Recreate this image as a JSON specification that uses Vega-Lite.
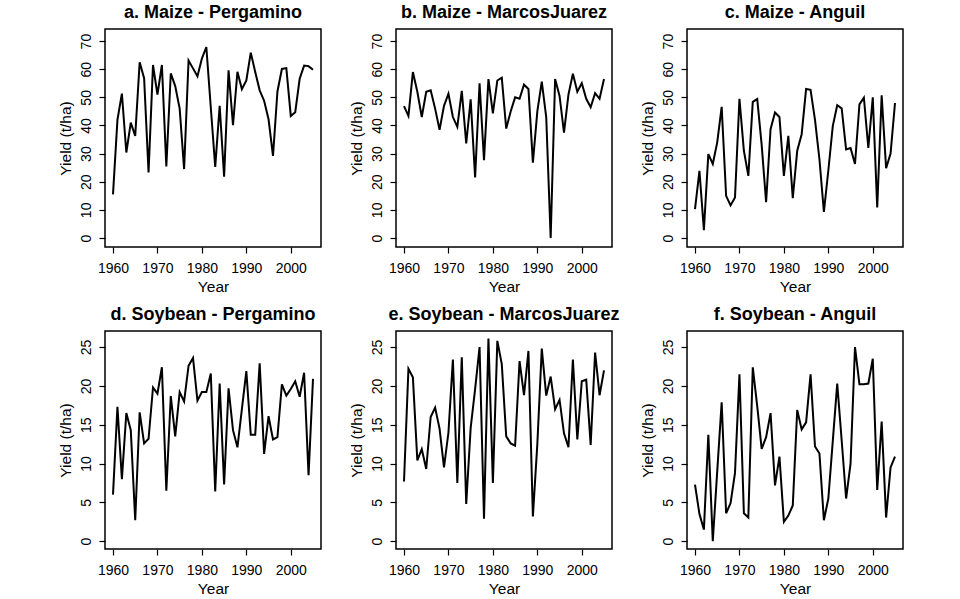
{
  "$schema": "https://vega.github.io/schema/vega-lite/v6.json",
  "background": "white",
  "padding": {"left": 57, "top": 3, "right": 5, "bottom": 5},
  "bounds": "flush",
  "spacing": {"row": 84, "column": 75},
  "columns": 3,
  "datasets": {
    "a": [{"Year":1960,"Yield":15.5},{"Year":1961,"Yield":42},{"Year":1962,"Yield":51.3},{"Year":1963,"Yield":30.4},{"Year":1964,"Yield":41},{"Year":1965,"Yield":36.3},{"Year":1966,"Yield":62.5},{"Year":1967,"Yield":56.8},{"Year":1968,"Yield":23.3},{"Year":1969,"Yield":61.5},{"Year":1970,"Yield":51},{"Year":1971,"Yield":61.5},{"Year":1972,"Yield":25.4},{"Year":1973,"Yield":58.5},{"Year":1974,"Yield":54},{"Year":1975,"Yield":46},{"Year":1976,"Yield":24.5},{"Year":1977,"Yield":63.1},{"Year":1978,"Yield":60.3},{"Year":1979,"Yield":57.5},{"Year":1980,"Yield":63.8},{"Year":1981,"Yield":67.9},{"Year":1982,"Yield":46.5},{"Year":1983,"Yield":25.3},{"Year":1984,"Yield":47},{"Year":1985,"Yield":21.8},{"Year":1986,"Yield":59.6},{"Year":1987,"Yield":40.1},{"Year":1988,"Yield":59.1},{"Year":1989,"Yield":52.9},{"Year":1990,"Yield":56},{"Year":1991,"Yield":65.9},{"Year":1992,"Yield":59},{"Year":1993,"Yield":52.5},{"Year":1994,"Yield":48.8},{"Year":1995,"Yield":42.2},{"Year":1996,"Yield":29.2},{"Year":1997,"Yield":52.1},{"Year":1998,"Yield":60.1},{"Year":1999,"Yield":60.4},{"Year":2000,"Yield":43.4},{"Year":2001,"Yield":44.7},{"Year":2002,"Yield":56.6},{"Year":2003,"Yield":61.3},{"Year":2004,"Yield":61.1},{"Year":2005,"Yield":59.8}],
    "b": [{"Year":1960,"Yield":46.9},{"Year":1961,"Yield":43.4},{"Year":1962,"Yield":59},{"Year":1963,"Yield":52},{"Year":1964,"Yield":43},{"Year":1965,"Yield":52},{"Year":1966,"Yield":52.5},{"Year":1967,"Yield":46},{"Year":1968,"Yield":38.5},{"Year":1969,"Yield":47},{"Year":1970,"Yield":51.3},{"Year":1971,"Yield":43},{"Year":1972,"Yield":39.5},{"Year":1973,"Yield":52.3},{"Year":1974,"Yield":33.6},{"Year":1975,"Yield":49.3},{"Year":1976,"Yield":21.5},{"Year":1977,"Yield":55},{"Year":1978,"Yield":27.7},{"Year":1979,"Yield":56.5},{"Year":1980,"Yield":44.3},{"Year":1981,"Yield":56},{"Year":1982,"Yield":57},{"Year":1983,"Yield":38.9},{"Year":1984,"Yield":45},{"Year":1985,"Yield":50},{"Year":1986,"Yield":49.5},{"Year":1987,"Yield":54.5},{"Year":1988,"Yield":53},{"Year":1989,"Yield":26.8},{"Year":1990,"Yield":45},{"Year":1991,"Yield":55.6},{"Year":1992,"Yield":43},{"Year":1993,"Yield":0},{"Year":1994,"Yield":56.5},{"Year":1995,"Yield":50.5},{"Year":1996,"Yield":37.5},{"Year":1997,"Yield":51},{"Year":1998,"Yield":58.4},{"Year":1999,"Yield":52},{"Year":2000,"Yield":55},{"Year":2001,"Yield":49.5},{"Year":2002,"Yield":46.5},{"Year":2003,"Yield":51.5},{"Year":2004,"Yield":49.5},{"Year":2005,"Yield":56.5}],
    "c": [{"Year":1960,"Yield":10.3},{"Year":1961,"Yield":23.9},{"Year":1962,"Yield":2.8},{"Year":1963,"Yield":29.8},{"Year":1964,"Yield":26.3},{"Year":1965,"Yield":34},{"Year":1966,"Yield":46.6},{"Year":1967,"Yield":15},{"Year":1968,"Yield":11.6},{"Year":1969,"Yield":14.4},{"Year":1970,"Yield":49.5},{"Year":1971,"Yield":31},{"Year":1972,"Yield":22.1},{"Year":1973,"Yield":48.4},{"Year":1974,"Yield":49.4},{"Year":1975,"Yield":33.1},{"Year":1976,"Yield":12.7},{"Year":1977,"Yield":38.7},{"Year":1978,"Yield":44.6},{"Year":1979,"Yield":43},{"Year":1980,"Yield":22.1},{"Year":1981,"Yield":36.3},{"Year":1982,"Yield":14.2},{"Year":1983,"Yield":31},{"Year":1984,"Yield":36.9},{"Year":1985,"Yield":53},{"Year":1986,"Yield":52.7},{"Year":1987,"Yield":42},{"Year":1988,"Yield":28},{"Year":1989,"Yield":9.3},{"Year":1990,"Yield":24},{"Year":1991,"Yield":39.8},{"Year":1992,"Yield":47.2},{"Year":1993,"Yield":46.1},{"Year":1994,"Yield":31.5},{"Year":1995,"Yield":32},{"Year":1996,"Yield":26.3},{"Year":1997,"Yield":47.5},{"Year":1998,"Yield":49.9},{"Year":1999,"Yield":32},{"Year":2000,"Yield":50},{"Year":2001,"Yield":10.9},{"Year":2002,"Yield":50.7},{"Year":2003,"Yield":24.8},{"Year":2004,"Yield":30},{"Year":2005,"Yield":48}],
    "d": [{"Year":1960,"Yield":6},{"Year":1961,"Yield":17.3},{"Year":1962,"Yield":8},{"Year":1963,"Yield":16.5},{"Year":1964,"Yield":14.3},{"Year":1965,"Yield":2.7},{"Year":1966,"Yield":16.6},{"Year":1967,"Yield":12.6},{"Year":1968,"Yield":13.2},{"Year":1969,"Yield":19.8},{"Year":1970,"Yield":19},{"Year":1971,"Yield":22.4},{"Year":1972,"Yield":6.5},{"Year":1973,"Yield":18.7},{"Year":1974,"Yield":13.5},{"Year":1975,"Yield":19.2},{"Year":1976,"Yield":18},{"Year":1977,"Yield":22.6},{"Year":1978,"Yield":23.6},{"Year":1979,"Yield":18.1},{"Year":1980,"Yield":19.2},{"Year":1981,"Yield":19.2},{"Year":1982,"Yield":21.6},{"Year":1983,"Yield":6.4},{"Year":1984,"Yield":20.3},{"Year":1985,"Yield":7.3},{"Year":1986,"Yield":19.7},{"Year":1987,"Yield":14.3},{"Year":1988,"Yield":12.1},{"Year":1989,"Yield":17},{"Year":1990,"Yield":21.9},{"Year":1991,"Yield":13.7},{"Year":1992,"Yield":13.7},{"Year":1993,"Yield":22.9},{"Year":1994,"Yield":11.25},{"Year":1995,"Yield":16.1},{"Year":1996,"Yield":13.1},{"Year":1997,"Yield":13.4},{"Year":1998,"Yield":20.2},{"Year":1999,"Yield":18.75},{"Year":2000,"Yield":19.6},{"Year":2001,"Yield":20.6},{"Year":2002,"Yield":18.6},{"Year":2003,"Yield":21.7},{"Year":2004,"Yield":8.5},{"Year":2005,"Yield":20.9}],
    "e": [{"Year":1960,"Yield":7.7},{"Year":1961,"Yield":22.2},{"Year":1962,"Yield":21.1},{"Year":1963,"Yield":10.4},{"Year":1964,"Yield":11.85},{"Year":1965,"Yield":9.3},{"Year":1966,"Yield":16},{"Year":1967,"Yield":17.2},{"Year":1968,"Yield":14.5},{"Year":1969,"Yield":9.5},{"Year":1970,"Yield":14},{"Year":1971,"Yield":23.4},{"Year":1972,"Yield":7.5},{"Year":1973,"Yield":23.7},{"Year":1974,"Yield":4.8},{"Year":1975,"Yield":14.6},{"Year":1976,"Yield":19.6},{"Year":1977,"Yield":25},{"Year":1978,"Yield":2.9},{"Year":1979,"Yield":26.1},{"Year":1980,"Yield":7.5},{"Year":1981,"Yield":25.8},{"Year":1982,"Yield":22.8},{"Year":1983,"Yield":13.5},{"Year":1984,"Yield":12.6},{"Year":1985,"Yield":12.3},{"Year":1986,"Yield":23.2},{"Year":1987,"Yield":18.8},{"Year":1988,"Yield":24.5},{"Year":1989,"Yield":3.2},{"Year":1990,"Yield":12.5},{"Year":1991,"Yield":24.8},{"Year":1992,"Yield":18.75},{"Year":1993,"Yield":21.2},{"Year":1994,"Yield":17},{"Year":1995,"Yield":18.2},{"Year":1996,"Yield":13.9},{"Year":1997,"Yield":12.1},{"Year":1998,"Yield":23.4},{"Year":1999,"Yield":13.1},{"Year":2000,"Yield":20.6},{"Year":2001,"Yield":20.8},{"Year":2002,"Yield":12.4},{"Year":2003,"Yield":24.3},{"Year":2004,"Yield":18.8},{"Year":2005,"Yield":22}],
    "f": [{"Year":1960,"Yield":7.3},{"Year":1961,"Yield":3.5},{"Year":1962,"Yield":1.5},{"Year":1963,"Yield":13.7},{"Year":1964,"Yield":0},{"Year":1965,"Yield":9},{"Year":1966,"Yield":17.9},{"Year":1967,"Yield":3.6},{"Year":1968,"Yield":4.9},{"Year":1969,"Yield":8.8},{"Year":1970,"Yield":21.5},{"Year":1971,"Yield":3.6},{"Year":1972,"Yield":3.05},{"Year":1973,"Yield":22.4},{"Year":1974,"Yield":17.4},{"Year":1975,"Yield":11.9},{"Year":1976,"Yield":13.4},{"Year":1977,"Yield":16.5},{"Year":1978,"Yield":7.2},{"Year":1979,"Yield":10.9},{"Year":1980,"Yield":2.5},{"Year":1981,"Yield":3.3},{"Year":1982,"Yield":4.6},{"Year":1983,"Yield":16.9},{"Year":1984,"Yield":14.4},{"Year":1985,"Yield":15.3},{"Year":1986,"Yield":21.5},{"Year":1987,"Yield":12.2},{"Year":1988,"Yield":11.3},{"Year":1989,"Yield":2.7},{"Year":1990,"Yield":5.5},{"Year":1991,"Yield":12.9},{"Year":1992,"Yield":20.3},{"Year":1993,"Yield":13},{"Year":1994,"Yield":5.5},{"Year":1995,"Yield":10},{"Year":1996,"Yield":25},{"Year":1997,"Yield":20.2},{"Year":1998,"Yield":20.2},{"Year":1999,"Yield":20.3},{"Year":2000,"Yield":23.5},{"Year":2001,"Yield":6.6},{"Year":2002,"Yield":15.4},{"Year":2003,"Yield":3.05},{"Year":2004,"Yield":9.5},{"Year":2005,"Yield":10.9}]
  },
  "concat": [
    {"title": "a. Maize - Pergamino", "width": 216, "height": 218, "data": {"name": "a"},
     "mark": {"type": "line", "color": "black", "strokeWidth": 2},
     "encoding": {
       "x": {"field": "Year", "type": "quantitative", "scale": {"domain": [1958.2, 2006.8], "nice": false, "zero": false}, "axis": {"values": [1960,1970,1980,1990,2000], "format": "d"}},
       "y": {"field": "Yield", "type": "quantitative", "title": "Yield (t/ha)", "scale": {"domain": [-3.2, 74.3], "nice": false, "zero": false}, "axis": {"values": [0,10,20,30,40,50,60,70]}}
     }},
    {"title": "b. Maize - MarcosJuarez", "width": 216, "height": 218, "data": {"name": "b"},
     "mark": {"type": "line", "color": "black", "strokeWidth": 2},
     "encoding": {
       "x": {"field": "Year", "type": "quantitative", "scale": {"domain": [1958.2, 2006.8], "nice": false, "zero": false}, "axis": {"values": [1960,1970,1980,1990,2000], "format": "d"}},
       "y": {"field": "Yield", "type": "quantitative", "title": "Yield (t/ha)", "scale": {"domain": [-3.2, 74.3], "nice": false, "zero": false}, "axis": {"values": [0,10,20,30,40,50,60,70]}}
     }},
    {"title": "c. Maize - Anguil", "width": 216, "height": 218, "data": {"name": "c"},
     "mark": {"type": "line", "color": "black", "strokeWidth": 2},
     "encoding": {
       "x": {"field": "Year", "type": "quantitative", "scale": {"domain": [1958.2, 2006.8], "nice": false, "zero": false}, "axis": {"values": [1960,1970,1980,1990,2000], "format": "d"}},
       "y": {"field": "Yield", "type": "quantitative", "title": "Yield (t/ha)", "scale": {"domain": [-3.2, 74.3], "nice": false, "zero": false}, "axis": {"values": [0,10,20,30,40,50,60,70]}}
     }},
    {"title": "d. Soybean - Pergamino", "width": 216, "height": 218, "data": {"name": "d"},
     "mark": {"type": "line", "color": "black", "strokeWidth": 2},
     "encoding": {
       "x": {"field": "Year", "type": "quantitative", "scale": {"domain": [1958.2, 2006.8], "nice": false, "zero": false}, "axis": {"values": [1960,1970,1980,1990,2000], "format": "d"}},
       "y": {"field": "Yield", "type": "quantitative", "title": "Yield (t/ha)", "scale": {"domain": [-1.0, 27.07], "nice": false, "zero": false}, "axis": {"values": [0,5,10,15,20,25]}}
     }},
    {"title": "e. Soybean - MarcosJuarez", "width": 216, "height": 218, "data": {"name": "e"},
     "mark": {"type": "line", "color": "black", "strokeWidth": 2},
     "encoding": {
       "x": {"field": "Year", "type": "quantitative", "scale": {"domain": [1958.2, 2006.8], "nice": false, "zero": false}, "axis": {"values": [1960,1970,1980,1990,2000], "format": "d"}},
       "y": {"field": "Yield", "type": "quantitative", "title": "Yield (t/ha)", "scale": {"domain": [-1.0, 27.07], "nice": false, "zero": false}, "axis": {"values": [0,5,10,15,20,25]}}
     }},
    {"title": "f. Soybean - Anguil", "width": 216, "height": 218, "data": {"name": "f"},
     "mark": {"type": "line", "color": "black", "strokeWidth": 2},
     "encoding": {
       "x": {"field": "Year", "type": "quantitative", "scale": {"domain": [1958.2, 2006.8], "nice": false, "zero": false}, "axis": {"values": [1960,1970,1980,1990,2000], "format": "d"}},
       "y": {"field": "Yield", "type": "quantitative", "title": "Yield (t/ha)", "scale": {"domain": [-1.0, 27.07], "nice": false, "zero": false}, "axis": {"values": [0,5,10,15,20,25]}}
     }}
  ],
  "config": {
    "font": "Liberation Sans",
    "view": {"stroke": "black", "strokeWidth": 1.5},
    "title": {"font": "Liberation Sans", "fontSize": 18, "fontWeight": "bold", "color": "black", "anchor": "middle", "offset": 7},
    "axis": {"domain": false, "grid": false, "tickColor": "black", "tickSize": 6, "tickWidth": 1.2, "labelFont": "Liberation Sans", "labelFontSize": 14, "labelColor": "black", "titleFont": "Liberation Sans", "titleFontSize": 15.5, "titleFontWeight": "normal", "titleColor": "black"},
    "axisX": {"labelPadding": 8, "titlePadding": 4},
    "axisY": {"labelAngle": 270, "labelAlign": "center", "labelBaseline": "bottom", "labelPadding": 6, "titlePadding": 6}
  }
}
